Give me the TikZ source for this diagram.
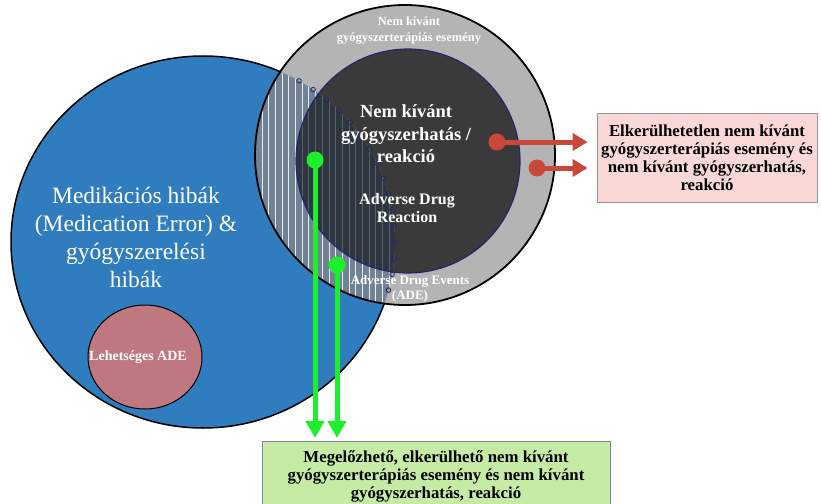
\documentclass[tikz,border=0pt]{standalone}
\usepackage{fontspec}
\setmainfont{Liberation Serif}
\usepackage{tikz}
\usetikzlibrary{arrows.meta,positioning,calc}
\definecolor{meblue}{RGB}{47,124,190}
\definecolor{ringgray}{RGB}{180,180,180}
\definecolor{coredark}{RGB}{58,58,58}
\definecolor{corenavy}{RGB}{38,38,110}
\definecolor{hatchlight}{RGB}{112,130,148}
\definecolor{hatchdark}{RGB}{45,53,63}
\definecolor{stripedark}{RGB}{90,98,108}
\definecolor{possible}{RGB}{192,120,128}
\definecolor{pinkfill}{RGB}{250,216,216}
\definecolor{pinkline}{RGB}{150,150,150}
\definecolor{greenfill}{RGB}{198,235,165}
\definecolor{greenline}{RGB}{120,135,160}
\definecolor{arrgreen}{RGB}{28,240,45}
\definecolor{arrred}{RGB}{200,72,58}

\begin{document}
\begin{tikzpicture}[
  x=1pt, y=-1pt,
  blob/.style={circle, inner sep=0pt, minimum size=17pt},
  redblob/.style={blob, fill=arrred},
  greenblob/.style={blob, fill=arrgreen},
  redarrow/.style={-{Triangle[length=15pt,width=17pt]}, line width=5pt, draw=arrred, shorten >=9pt},
  greenarrow/.style={-{Triangle[length=17pt,width=18pt]}, line width=5pt, draw=arrgreen, shorten >=3pt},
  wlabel/.style={text=white, align=center, inner sep=0pt},
  infobox/.style={align=center, line width=0.8pt, font=\bfseries\fontsize{16.8}{18}\selectfont}
]
\useasboundingbox (0,0) rectangle (821,503);

\filldraw[fill=meblue, draw=black, line width=1.5pt] (203,242) ellipse [x radius=192pt, y radius=186pt];
\filldraw[fill=possible, draw=black, line width=1pt] (145,357) ellipse [x radius=57pt, y radius=52pt];
\fill[ringgray] (405,155) circle [radius=150pt];
\fill[coredark] (408,161) circle [radius=112pt];

\begin{scope}
  \clip (203,242) ellipse [x radius=192pt, y radius=186pt];
  \clip (405,155) circle [radius=150pt];
  \fill[hatchlight] (240,0) rectangle (410,320);
  \foreach \x in {262,268.7,...,396}
    \draw[white, opacity=0.85, line width=0.9pt] (\x,0) -- (\x,320);
\end{scope}
\begin{scope}
  \clip (203,242) ellipse [x radius=192pt, y radius=186pt];
  \clip (408,161) circle [radius=112pt];
  \fill[hatchdark] (240,0) rectangle (410,320);
  \foreach \x in {262,268.7,...,396}
    \draw[stripedark, line width=0.9pt] (\x,0) -- (\x,320);
\end{scope}

\draw[corenavy, line width=1.2pt] (408,161) circle [radius=112pt];
\draw[black, line width=1.8pt] (405,155) circle [radius=150pt];
\foreach \a in {60,55,...,-15}
  \draw[corenavy, line width=0.8pt] ($(203,242)+(\a:192pt and 186pt)$) circle [radius=2.3pt];

\node[wlabel, font=\fontsize{23.5}{28}\selectfont] (mederr) at (136,237)
  {Medikációs hibák\\(Medication Error) \&\\gyógyszerelési\\hibák};
\node[wlabel, font=\bfseries\fontsize{14}{16}\selectfont] (posade) at (138,357) {Lehetséges ADE};
\node[wlabel, font=\bfseries\fontsize{12.5}{16}\selectfont] (event) at (409,31)
  {Nem kívánt\\gyógyszerterápiás esemény};
\node[wlabel, font=\bfseries\fontsize{18.5}{22.5}\selectfont] (reaction) at (406,134)
  {Nem kívánt\\gyógyszerhatás /\\reakció};
\node[wlabel, font=\bfseries\fontsize{16}{18}\selectfont] (adr) at (407,208)
  {Adverse Drug\\Reaction};
\node[wlabel, font=\bfseries\fontsize{13}{15}\selectfont] (ade) at (410,289)
  {Adverse Drug Events\\(ADE)};

\node[infobox, fill=pinkfill, draw=pinkline, minimum width=220pt, minimum height=89pt] (unavoid) at (707,158)
  {Elkerülhetetlen nem kívánt\\gyógyszerterápiás esemény és\\nem kívánt gyógyszerhatás,\\reakció};
\node[infobox, fill=greenfill, draw=greenline, minimum width=348pt, inner ysep=9pt, anchor=north] (avoid) at (436,441)
  {Megelőzhető, elkerülhető nem kívánt\\gyógyszerterápiás esemény és nem kívánt\\gyógyszerhatás, reakció};

\node[redblob] (r1) at (497,142) {};
\node[redblob] (r2) at (537,168) {};
\node[greenblob] (g1) at (315,160) {};
\node[greenblob] (g2) at (337,265) {};

\draw[redarrow] (r1.center) -- (r1.center -| unavoid.west);
\draw[redarrow] (r2.center) -- (r2.center -| unavoid.west);
\draw[greenarrow] (g1.center) -- (g1.center |- avoid.north);
\draw[greenarrow] (g2.center) -- (g2.center |- avoid.north);
\end{tikzpicture}
\end{document}
